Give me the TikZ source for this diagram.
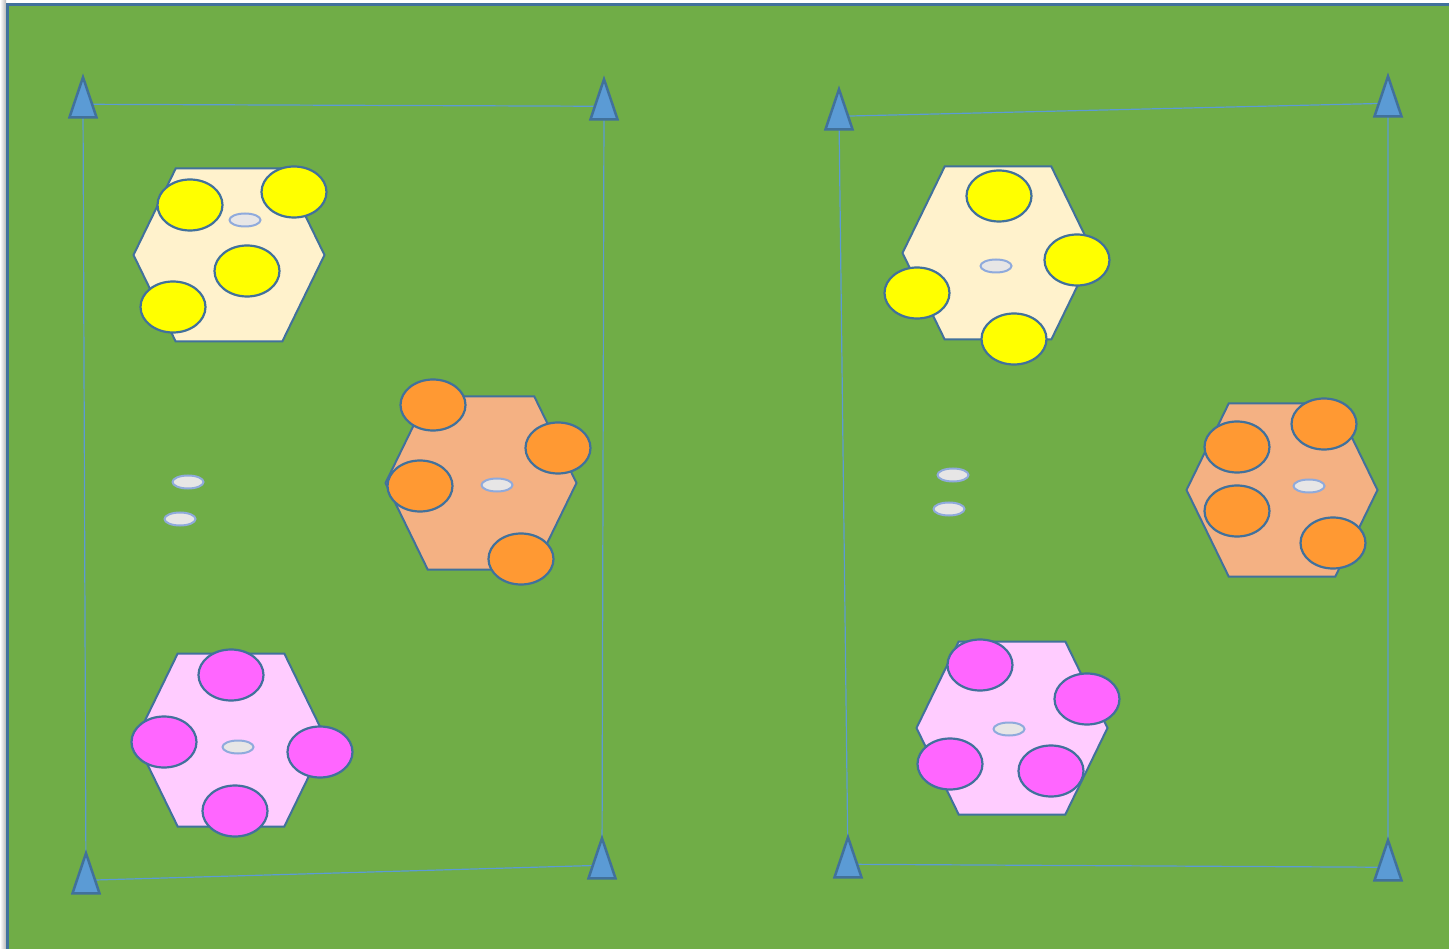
\documentclass[tikz,border=0pt]{standalone}
\usetikzlibrary{shapes.geometric,shapes.symbols,calc}
\definecolor{fieldgreen}{HTML}{70AD47}
\definecolor{edgeblue}{HTML}{41719C}
\definecolor{coneblue}{HTML}{5B9BD5}
\definecolor{cream}{HTML}{FFF2CC}
\definecolor{peach}{HTML}{F4B183}
\definecolor{lightpink}{HTML}{FFCCFF}
\definecolor{bibyellow}{HTML}{FFFF00}
\definecolor{biborange}{HTML}{FF9933}
\definecolor{bibpink}{HTML}{FF66FF}
\definecolor{discgray}{HTML}{E7E6E6}
\definecolor{discedge}{HTML}{8FAADC}
\pgfdeclarelayer{field}
\pgfdeclarelayer{marking}
\pgfsetlayers{field,marking,main}
\tikzset{
  cone/.style={isosceles triangle, shape border rotate=90, isosceles triangle stretches,
    minimum width=27pt, minimum height=40pt, inner sep=0pt, anchor=apex,
    draw=edgeblue, fill=coneblue, line width=2.5pt},
  zone/.style={signal, signal to=east and west, signal pointer angle=128,
    minimum width=191pt, minimum height=173pt, inner sep=0pt,
    draw=edgeblue, line width=2pt},
  player/.style={ellipse, minimum width=65pt, minimum height=51pt, inner sep=0pt,
    draw=edgeblue, line width=2.2pt},
  disc/.style={ellipse, minimum width=31pt, minimum height=13pt, inner sep=0pt,
    draw=discedge, fill=discgray, line width=2pt},
  pitchline/.style={draw=coneblue, line width=1.2pt}
}

\begin{document}
\begin{tikzpicture}[x=1pt,y=-1pt]
\useasboundingbox (0,0) rectangle (1449,949);
\clip (0,0) rectangle (1449,949);
\begin{pgfonlayer}{field}
\fill[white] (0,0) rectangle (1449,949);
\shade[left color=white, right color=gray!55] (0,0) rectangle (6,949);
\filldraw[fill=fieldgreen, draw=edgeblue, line width=3pt] (7,5) rectangle (1470,970);
\end{pgfonlayer}

\node[cone] (cone1) at (83,74) {};
\node[cone] (cone2) at (604,76) {};
\node[cone] (cone3) at (86,850) {};
\node[cone] (cone4) at (602,835) {};
\node[cone] (cone5) at (839,86) {};
\node[cone] (cone6) at (1388,73) {};
\node[cone] (cone7) at (848,834) {};
\node[cone] (cone8) at (1388,837) {};

\foreach \c in {1,...,8}
  \coordinate (mid\c) at ($(cone\c.apex)!0.68!(cone\c.lower side)$);
\begin{pgfonlayer}{marking}
\draw[pitchline] (mid1) -- (mid2) -- (mid4) -- (mid3) -- cycle;
\draw[pitchline] (mid5) -- (mid6) -- (mid8) -- (mid7) -- cycle;
\end{pgfonlayer}

\node[zone, fill=cream] (zoneyl) at (229,255) {};
\node[zone, fill=peach] (zoneol) at (481,483) {};
\node[zone, fill=lightpink] (zonepl) at (231,740) {};
\node[zone, fill=cream] (zoneyr) at (998,253) {};
\node[zone, fill=peach] (zoneor) at (1282,490) {};
\node[zone, fill=lightpink] (zonepr) at (1012,728) {};

\node[disc] (discyl) at (245,220) {};
\node[disc] (discol) at (497,485) {};
\node[disc] (discpl) at (238,747) {};
\node[disc] (spareal) at (188,482) {};
\node[disc] (sparebl) at (180,519) {};
\node[disc] (discyr) at (996,266) {};
\node[disc] (discor) at (1309,486) {};
\node[disc] (discpr) at (1009,729) {};
\node[disc] (sparear) at (953,475) {};
\node[disc] (sparebr) at (949,509) {};

\node[player, fill=bibyellow] (yl1) at (190,205) {};
\node[player, fill=bibyellow] (yl2) at (294,192) {};
\node[player, fill=bibyellow] (yl3) at (247,271) {};
\node[player, fill=bibyellow] (yl4) at (173,307) {};
\node[player, fill=biborange] (ol1) at (433,405) {};
\node[player, fill=biborange] (ol2) at (558,448) {};
\node[player, fill=biborange] (ol3) at (420,486) {};
\node[player, fill=biborange] (ol4) at (521,559) {};
\node[player, fill=bibpink] (pl1) at (231,675) {};
\node[player, fill=bibpink] (pl2) at (164,742) {};
\node[player, fill=bibpink] (pl3) at (320,752) {};
\node[player, fill=bibpink] (pl4) at (235,811) {};
\node[player, fill=bibyellow] (yr1) at (999,196) {};
\node[player, fill=bibyellow] (yr2) at (1077,260) {};
\node[player, fill=bibyellow] (yr3) at (917,293) {};
\node[player, fill=bibyellow] (yr4) at (1014,339) {};
\node[player, fill=biborange] (or1) at (1324,424) {};
\node[player, fill=biborange] (or2) at (1237,447) {};
\node[player, fill=biborange] (or3) at (1237,511) {};
\node[player, fill=biborange] (or4) at (1333,543) {};
\node[player, fill=bibpink] (pr1) at (980,665) {};
\node[player, fill=bibpink] (pr2) at (1087,699) {};
\node[player, fill=bibpink] (pr3) at (950,764) {};
\node[player, fill=bibpink] (pr4) at (1051,771) {};
\end{tikzpicture}
\end{document}
